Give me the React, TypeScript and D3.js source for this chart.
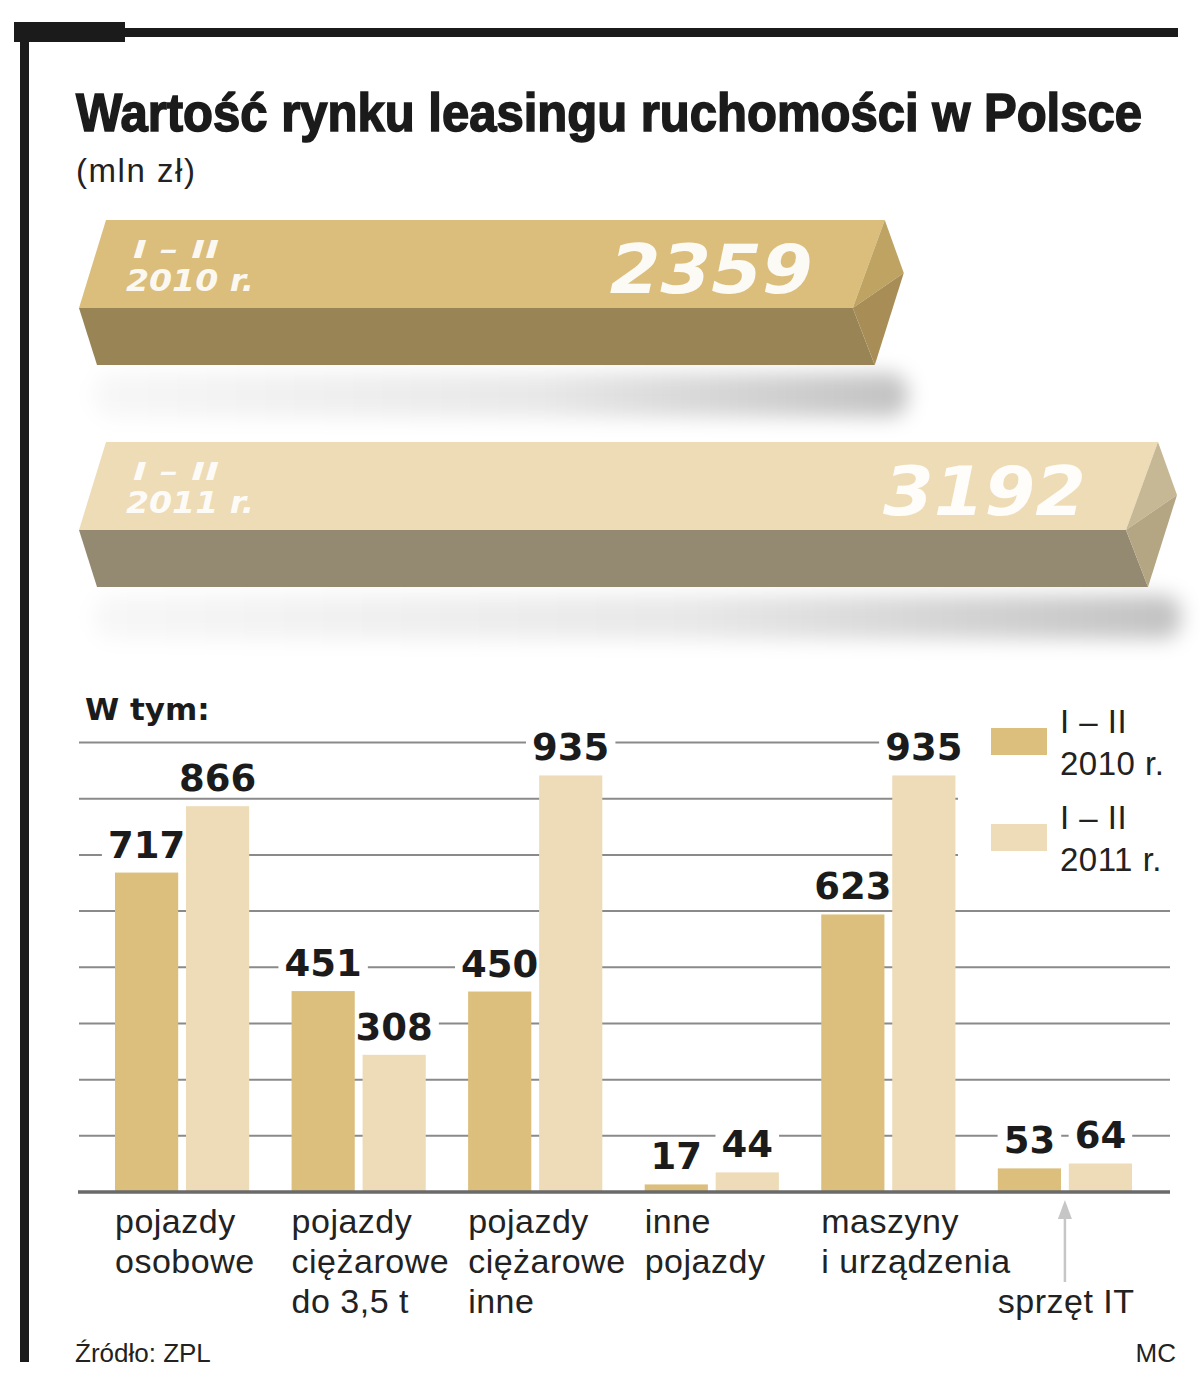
import * as d3 from "d3";
import { useEffect, useRef } from "react";

// values (mln zł)
const periods = ["2010", "2011"];
const periodLabels = [
  ["I – II", "2010 r."],
  ["I – II", "2011 r."],
];
const totals = [2359, 3192];

const categories = [
  "pojazdy osobowe",
  "pojazdy ciężarowe do 3,5 t",
  "pojazdy ciężarowe inne",
  "inne pojazdy",
  "maszyny i urządzenia",
  "sprzęt IT",
];
const categoryLines = [
  ["pojazdy", "osobowe"],
  ["pojazdy", "ciężarowe", "do 3,5 t"],
  ["pojazdy", "ciężarowe", "inne"],
  ["inne", "pojazdy"],
  ["maszyny", "i urządzenia"],
  ["sprzęt IT"],
];
const values2010 = [717, 451, 450, 17, 623, 53];
const values2011 = [866, 308, 935, 44, 935, 64];

const barColors = ["#dcbf7d", "#eddcb7"];
const bigColors = [
  { light: "#dbbe7b", dark: "#998455", capTop: "#bea363", capBot: "#a88e56" },
  { light: "#eedcb6", dark: "#948a72", capTop: "#c6b894", capBot: "#b4a683" },
];

const sans = "'Liberation Sans', Arial, sans-serif";
const narrow = "'Liberation Sans Narrow', 'Liberation Sans', sans-serif";
const heavy = "'DejaVu Sans', sans-serif";

function App() {
  const ref = useRef<SVGSVGElement>(null);

  useEffect(() => {
    const W = 1200;
    const H = 1387;
    const svg = d3.select(ref.current);
    svg.selectAll("*").remove();
    svg.attr("width", W).attr("height", H).attr("viewBox", `0 0 ${W} ${H}`);

    const defs = svg.append("defs");
    defs
      .append("filter")
      .attr("id", "blur")
      .attr("x", "-10%")
      .attr("y", "-100%")
      .attr("width", "120%")
      .attr("height", "300%")
      .append("feGaussianBlur")
      .attr("stdDeviation", 10);
    const grad = defs
      .append("linearGradient")
      .attr("id", "shade")
      .attr("x1", 0)
      .attr("x2", 1)
      .attr("y1", 0)
      .attr("y2", 0);
    grad.append("stop").attr("offset", "0%").attr("stop-color", "#000").attr("stop-opacity", 0.03);
    grad.append("stop").attr("offset", "55%").attr("stop-color", "#000").attr("stop-opacity", 0.09);
    grad.append("stop").attr("offset", "100%").attr("stop-color", "#000").attr("stop-opacity", 0.24);

    // frame
    svg.append("rect").attr("x", 20).attr("y", 22).attr("width", 9).attr("height", 1340).attr("fill", "#1b1b1b");
    svg.append("rect").attr("x", 14).attr("y", 22).attr("width", 111).attr("height", 20).attr("fill", "#1b1b1b");
    svg.append("rect").attr("x", 120).attr("y", 28).attr("width", 1058).attr("height", 9).attr("fill", "#1b1b1b");

    // title
    svg
      .append("text")
      .attr("x", 76)
      .attr("y", 131)
      .attr("font-family", narrow)
      .attr("font-weight", "bold")
      .attr("font-size", 54)
      .attr("textLength", 1066)
      .attr("lengthAdjust", "spacingAndGlyphs")
      .attr("fill", "#1b1b1b")
      .attr("stroke", "#1b1b1b")
      .attr("stroke-width", 1.6)
      .text("Wartość rynku leasingu ruchomości w Polsce");
    svg
      .append("text")
      .attr("x", 76)
      .attr("y", 182)
      .attr("font-family", sans)
      .attr("font-size", 33)
      .attr("textLength", 119)
      .attr("fill", "#222")
      .text("(mln zł)");

    // big 3D bars
    const xBig = d3.scaleLinear().domain([0, d3.max(totals)!]).range([0, 1047]);
    const yBig = d3.scalePoint<string>().domain(periods).range([220, 442]);
    const L = 79;

    periods.forEach((p, i) => {
      const t = yBig(p)!;
      const R = L + xBig(totals[i]);
      const m = t + 88;
      const b = t + 145;
      const c = bigColors[i];
      const g = svg.append("g");
      const poly = (pts: number[][]) => pts.map((d) => d.join(",")).join(" ");

      g.append("rect")
        .attr("x", L + 15)
        .attr("y", b + 8)
        .attr("width", R - L + 40)
        .attr("height", 44)
        .attr("rx", 18)
        .attr("fill", "url(#shade)")
        .attr("filter", "url(#blur)");

      g.append("polygon")
        .attr("points", poly([[L + 27, t], [R + 32, t], [R, m], [L, m]]))
        .attr("fill", c.light);
      g.append("polygon")
        .attr("points", poly([[L, m], [R, m], [R + 22, b], [L + 18, b]]))
        .attr("fill", c.dark);
      g.append("polygon")
        .attr("points", poly([[R + 32, t], [R + 51, t + 53], [R, m]]))
        .attr("fill", c.capTop);
      g.append("polygon")
        .attr("points", poly([[R, m], [R + 51, t + 53], [R + 22, b]]))
        .attr("fill", c.capBot);

      const txt = g
        .append("g")
        .attr("fill", "#fff")
        .attr("fill-opacity", 0.92)
        .attr("font-family", heavy)
        .attr("font-weight", "bold")
        .attr("font-style", "italic");
      txt.append("text")
        .attr("x", L + 54)
        .attr("y", t + 38)
        .attr("font-size", 24)
        .attr("textLength", 86)
        .attr("lengthAdjust", "spacingAndGlyphs")
        .text(periodLabels[i][0]);
      txt.append("text")
        .attr("x", L + 47)
        .attr("y", t + 71)
        .attr("font-size", 31)
        .attr("textLength", 128)
        .attr("lengthAdjust", "spacingAndGlyphs")
        .text(periodLabels[i][1]);
      txt.append("text")
        .attr("x", R - 243)
        .attr("y", t + 73)
        .attr("font-size", 68)
        .attr("textLength", 203)
        .attr("lengthAdjust", "spacingAndGlyphs")
        .text(d3.format("d")(totals[i]));
    });

    // grouped bar chart
    const x0 = d3.scaleBand<string>().domain(categories).range([115, 1132]).paddingInner(0.24);
    const x1 = d3.scaleBand<string>().domain(periods).range([0, x0.bandwidth()]).paddingInner(0.11);
    const y = d3.scaleLinear().domain([0, 1009]).range([1192, 742.5]);
    const gridValues = d3.range(1, 9).map((k) => (1009 * k) / 8);

    svg
      .append("text")
      .attr("x", 85)
      .attr("y", 720)
      .attr("font-family", heavy)
      .attr("font-weight", "bold")
      .attr("font-size", 31)
      .attr("fill", "#1b1b1b")
      .text("W tym:");

    svg
      .append("g")
      .selectAll("line")
      .data(gridValues)
      .join("line")
      .attr("x1", 79)
      .attr("x2", 1170)
      .attr("y1", (d) => y(d))
      .attr("y2", (d) => y(d))
      .attr("stroke", "#8a8a8a")
      .attr("stroke-width", 2);

    // legend (sits on a white block over the grid)
    svg.append("rect").attr("x", 958).attr("y", 700).attr("width", 216).attr("height", 186).attr("fill", "#fff");
    periods.forEach((p, i) => {
      const ly = 728 + i * 96;
      svg.append("rect").attr("x", 991).attr("y", ly).attr("width", 56).attr("height", 27).attr("fill", barColors[i]);
      periodLabels[i].forEach((s, j) => {
        svg
          .append("text")
          .attr("x", 1060)
          .attr("y", ly + 5 + j * 42)
          .attr("font-family", sans)
          .attr("font-size", 33)
          .attr("letter-spacing", 0.5)
          .attr("fill", "#222")
          .text(s);
      });
    });

    const rows = categories.map((c, i) => ({ cat: c, vals: [values2010[i], values2011[i]] }));
    const cells = rows.flatMap((d) =>
      d.vals.map((v, k) => ({ cat: d.cat, p: periods[k], v, k }))
    );
    const cx = (d: { cat: string; p: string }) => x0(d.cat)! + x1(d.p)! + x1.bandwidth() / 2;
    const digitW = 25.8;

    // white patches behind value labels cut the grid
    svg
      .append("g")
      .selectAll("rect")
      .data(cells)
      .join("rect")
      .attr("x", (d) => cx(d) - (String(d.v).length * digitW) / 2 - 6)
      .attr("y", (d) => y(d.v) - 45)
      .attr("width", (d) => String(d.v).length * digitW + 12)
      .attr("height", 34)
      .attr("fill", "#fff");

    svg
      .append("g")
      .selectAll("rect")
      .data(cells)
      .join("rect")
      .attr("x", (d) => x0(d.cat)! + x1(d.p)!)
      .attr("y", (d) => y(d.v))
      .attr("width", x1.bandwidth())
      .attr("height", (d) => y(0) - y(d.v))
      .attr("fill", (d) => barColors[d.k]);

    svg
      .append("g")
      .selectAll("text")
      .data(cells)
      .join("text")
      .attr("x", cx)
      .attr("y", (d) => y(d.v) - 15)
      .attr("text-anchor", "middle")
      .attr("font-family", heavy)
      .attr("font-weight", "bold")
      .attr("font-size", 37)
      .attr("fill", "#1b1b1b")
      .text((d) => d.v);

    svg
      .append("line")
      .attr("x1", 78)
      .attr("x2", 1170)
      .attr("y1", y(0))
      .attr("y2", y(0))
      .attr("stroke", "#6a6a6a")
      .attr("stroke-width", 3.5);

    // category labels
    categories.forEach((c, i) => {
      const lines = categoryLines[i];
      const isIT = c === "sprzęt IT";
      const start = isIT ? 2 : 0;
      lines.forEach((s, j) => {
        svg
          .append("text")
          .attr("x", x0(c)!)
          .attr("y", 1233 + (start + j) * 40)
          .attr("font-family", sans)
          .attr("font-size", 34)
          .attr("letter-spacing", 0.5)
          .attr("fill", "#222")
          .text(s);
      });
      if (isIT) {
        const ax = x0(c)! + x0.bandwidth() / 2;
        svg
          .append("line")
          .attr("x1", ax)
          .attr("x2", ax)
          .attr("y1", 1282)
          .attr("y2", 1212)
          .attr("stroke", "#c6c6c6")
          .attr("stroke-width", 2.5);
        svg
          .append("path")
          .attr("d", `M${ax - 7},${1219} L${ax},${1200} L${ax + 7},${1219} Z`)
          .attr("fill", "#c6c6c6");
      }
    });

    // footer
    svg
      .append("text")
      .attr("x", 75)
      .attr("y", 1362)
      .attr("font-family", sans)
      .attr("font-size", 26)
      .attr("fill", "#222")
      .text("Źródło: ZPL");
    svg
      .append("text")
      .attr("x", 1176)
      .attr("y", 1362)
      .attr("text-anchor", "end")
      .attr("font-family", sans)
      .attr("font-size", 26)
      .attr("fill", "#222")
      .text("MC");

    return () => {
      svg.selectAll("*").remove();
    };
  }, []);

  return (
    <div style={{ position: "absolute", left: 0, top: 0 }}>
      <svg ref={ref} style={{ display: "block", background: "#fff" }}></svg>
    </div>
  );
}

export default App;
